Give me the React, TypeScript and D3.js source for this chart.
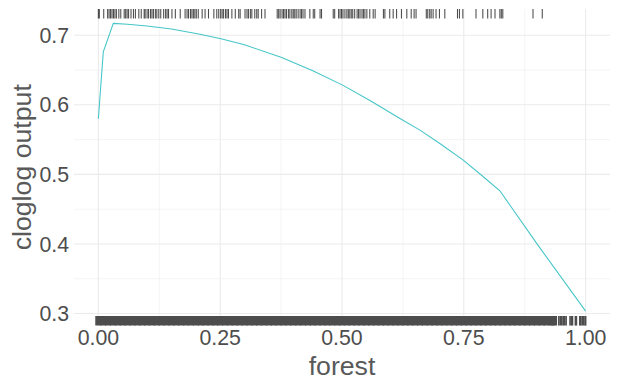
import React from "react";
import * as d3 from "d3";

// Response curve (forest -> cloglog output)
const forestX = [0, 0.0101, 0.0307, 0.06, 0.1, 0.15, 0.2085, 0.2495, 0.3, 0.3762, 0.44, 0.5013, 0.56, 0.6189, 0.66, 0.7, 0.7488, 0.79, 0.824, 0.8995, 1.0];
const cloglogY = [0.58, 0.6761, 0.717, 0.7158, 0.7132, 0.709, 0.7014, 0.6954, 0.6862, 0.668, 0.649, 0.6283, 0.6052, 0.5804, 0.5636, 0.5448, 0.5205, 0.4966, 0.4764, 0.4008, 0.3035];

// Presence locations (top rug)
const presenceX = [
  0.0, 0.002, 0.011, 0.019, 0.022, 0.025, 0.028, 0.031, 0.034, 0.037, 0.042, 0.046,
  0.053, 0.056, 0.059, 0.062, 0.067, 0.072, 0.076, 0.083, 0.088, 0.094, 0.096,
  0.1, 0.103, 0.107, 0.11, 0.113, 0.117, 0.12, 0.124, 0.128, 0.134, 0.138, 0.141, 0.144,
  0.151, 0.158, 0.168, 0.178, 0.182, 0.185, 0.189, 0.192, 0.195, 0.198, 0.201, 0.205,
  0.213, 0.219, 0.226, 0.237, 0.243, 0.247, 0.251, 0.254, 0.257, 0.261, 0.264, 0.267,
  0.274, 0.281, 0.288, 0.291, 0.301, 0.305, 0.308, 0.312,
  0.315, 0.321, 0.325, 0.328, 0.335, 0.342, 0.367, 0.37, 0.373, 0.377, 0.38, 0.383, 0.386,
  0.39, 0.393, 0.397, 0.4, 0.403, 0.406, 0.41, 0.414, 0.417, 0.42, 0.424, 0.434, 0.441, 0.444,
  0.455, 0.458, 0.482, 0.485, 0.493, 0.496, 0.499, 0.502, 0.506, 0.51, 0.513, 0.516, 0.519,
  0.522, 0.526, 0.531, 0.534, 0.537, 0.541, 0.544, 0.547, 0.551, 0.557, 0.564, 0.568,
  0.585, 0.588, 0.598, 0.605, 0.612, 0.622, 0.633,
  0.642, 0.648, 0.652, 0.673, 0.676, 0.68, 0.683, 0.687, 0.693, 0.7, 0.711, 0.737, 0.741,
  0.748, 0.775, 0.789, 0.799, 0.806, 0.814, 0.824, 0.827, 0.83, 0.892, 0.911
];

// Background locations (bottom rug): dense part and sparse tail
const backgroundDense = [
  0.00, 0.01, 0.02, 0.03, 0.04, 0.05, 0.06, 0.07, 0.08, 0.09,
  0.10, 0.11, 0.12, 0.13, 0.14, 0.15, 0.16, 0.17, 0.18, 0.19,
  0.20, 0.21, 0.22, 0.23, 0.24, 0.25, 0.26, 0.27, 0.28, 0.29,
  0.30, 0.31, 0.32, 0.33, 0.34, 0.35, 0.36, 0.37, 0.38, 0.39,
  0.40, 0.41, 0.42, 0.43, 0.44, 0.45, 0.46, 0.47, 0.48, 0.49,
  0.50, 0.51, 0.52, 0.53, 0.54, 0.55, 0.56, 0.57, 0.58, 0.59,
  0.60, 0.61, 0.62, 0.63, 0.64, 0.65, 0.66, 0.67, 0.68, 0.69,
  0.70, 0.71, 0.72, 0.73, 0.74, 0.75, 0.76, 0.77, 0.78, 0.79,
  0.80, 0.81, 0.82, 0.83, 0.84, 0.85, 0.86, 0.87, 0.88, 0.89,
  0.90, 0.91, 0.92, 0.93, 0.935
];
const backgroundSparse = [0.945, 0.948, 0.951, 0.954, 0.957, 0.96, 0.968, 0.971, 0.973, 0.979, 0.981, 0.988, 0.99, 0.993, 0.996, 0.999, 1.0];

const xTicks = [0, 0.25, 0.5, 0.75, 1.0];
const xMinor = [0.125, 0.375, 0.625, 0.875];
const yTicks = [0.3, 0.4, 0.5, 0.6, 0.7];
const yMinor = [0.35, 0.45, 0.55, 0.65];

const W = 621, H = 381;
const panel = { left: 74, right: 610, top: 9, bottom: 325.5 };

export default function App() {
  const x = d3.scaleLinear().domain([-0.05, 1.05]).range([panel.left, panel.right]);
  const yMin = d3.min(cloglogY)!, yMax = d3.max(cloglogY)!;
  const pad = (yMax - yMin) * 0.05;
  const y = d3.scaleLinear().domain([yMin - pad, yMax + pad]).range([panel.bottom, panel.top]);
  const rugLen = (panel.bottom - panel.top) * 0.03;

  const line = d3.line<number>().x((_, i) => x(forestX[i])).y((d) => y(d));
  const font = "'Liberation Sans', Arial, Helvetica, sans-serif";
  const grid = "#EBEBEB";

  return (
    <svg width={W} height={H} style={{ position: "absolute", left: 0, top: 0, background: "#fff" }} fontFamily={font}>
      {/* minor grid */}
      {xMinor.map((v) => (
        <line key={"xm" + v} x1={x(v)} x2={x(v)} y1={panel.top} y2={panel.bottom} stroke={grid} strokeWidth={0.55} />
      ))}
      {yMinor.map((v) => (
        <line key={"ym" + v} x1={panel.left} x2={panel.right} y1={y(v)} y2={y(v)} stroke={grid} strokeWidth={0.55} />
      ))}
      {/* major grid */}
      {xTicks.map((v) => (
        <line key={"xg" + v} x1={x(v)} x2={x(v)} y1={panel.top} y2={panel.bottom} stroke={grid} strokeWidth={1.1} />
      ))}
      {yTicks.map((v) => (
        <line key={"yg" + v} x1={panel.left} x2={panel.right} y1={y(v)} y2={y(v)} stroke={grid} strokeWidth={1.1} />
      ))}

      {/* rugs */}
      {backgroundDense.map((v, i) => (
        <line key={"bd" + i} x1={x(v)} x2={x(v)} y1={panel.bottom} y2={panel.bottom - rugLen} stroke="#4D4D4D" strokeWidth={6.2} />
      ))}
      {backgroundSparse.map((v, i) => (
        <line key={"bs" + i} x1={x(v)} x2={x(v)} y1={panel.bottom} y2={panel.bottom - rugLen} stroke="#4D4D4D" strokeWidth={1.6} />
      ))}
      {presenceX.map((v, i) => (
        <line key={"p" + i} x1={x(v)} x2={x(v)} y1={panel.top} y2={panel.top + rugLen} stroke="#000" strokeOpacity={0.7} strokeWidth={1.07} />
      ))}

      {/* response curve */}
      <path d={line(cloglogY) || ""} fill="none" stroke="#45C5C7" strokeWidth={1.07} />

      {/* axis tick labels */}
      {xTicks.map((v) => (
        <text key={"xt" + v} x={x(v)} y={345} textAnchor="middle" fontSize={21.3} fill="#4D4D4D">
          {d3.format(".2f")(v)}
        </text>
      ))}
      {yTicks.map((v) => (
        <text key={"yt" + v} x={69} y={y(v) + 7.6} textAnchor="end" fontSize={21.3} fill="#4D4D4D">
          {d3.format(".1f")(v)}
        </text>
      ))}

      {/* axis titles */}
      <text x={(panel.left + panel.right) / 2} y={374.5} textAnchor="middle" fontSize={26.7} fill="#595959">
        forest
      </text>
      <text
        transform={`translate(31, ${(panel.top + panel.bottom) / 2}) rotate(-90)`}
        textAnchor="middle"
        fontSize={26.7}
        fill="#595959"
      >
        cloglog output
      </text>
    </svg>
  );
}
